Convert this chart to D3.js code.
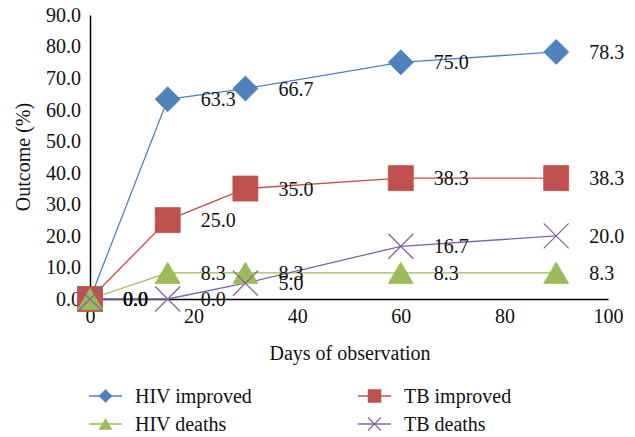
<!DOCTYPE html>
<html><head><meta charset="utf-8">
<script src="https://cdn.jsdelivr.net/npm/d3@7"></script>
<style>
body{margin:0;background:#fff;}
text{font-family:"Liberation Serif","DejaVu Serif",serif;fill:#111;}
</style></head>
<body><svg id="c" width="635" height="437"></svg>
<script>
const days = [0, 15, 30, 60, 90];
const hivImproved = [0, 63.3, 66.7, 75.0, 78.3];
const tbImproved = [0, 25.0, 35.0, 38.3, 38.3];
const hivDeaths = [0, 8.3, 8.3, 8.3, 8.3];
const tbDeaths = [0, 0.0, 5.0, 16.7, 20.0];
const seriesNames = ["HIV improved", "TB improved", "HIV deaths", "TB deaths"];
const xTicks = [0, 20, 40, 60, 80, 100];
const yTicks = [0, 10, 20, 30, 40, 50, 60, 70, 80, 90];

const series = [
  {name: seriesNames[0], values: hivImproved, color: "#4F81BD", shape: "diamond"},
  {name: seriesNames[1], values: tbImproved, color: "#C0504D", shape: "square"},
  {name: seriesNames[2], values: hivDeaths, color: "#9BBB59", shape: "triangle"},
  {name: seriesNames[3], values: tbDeaths, color: "#8064A2", shape: "x"}
];

const FS = "20px";
const svg = d3.select("#c");
const x = d3.scaleLinear().domain([0, 100]).range([90, 608]);
const y = d3.scaleLinear().domain([0, 90]).range([299, 15]);

function markerPath(shape, s) {
  const h = s / 2;
  if (shape === "diamond") return `M0,${-h}L${h},0L0,${h}L${-h},0Z`;
  if (shape === "square") return `M${-h},${-h}H${h}V${h}H${-h}Z`;
  if (shape === "triangle") return `M0,${-h*0.85}L${h},${h*0.85}L${-h},${h*0.85}Z`;
  return `M${-h},${-h}L${h},${h}M${-h},${h}L${h},${-h}`;
}

// axes
const yAxis = d3.axisLeft(y).tickValues(yTicks).tickFormat(d3.format(".1f")).tickSize(0).tickPadding(9);
const gy = svg.append("g").attr("transform", `translate(${x(0)},0)`).call(yAxis);
gy.select(".domain").attr("stroke", "#000").attr("stroke-width", 1.5);
gy.selectAll("text").style("font-size", FS).attr("font-family", null);

const xAxis = d3.axisBottom(x).tickValues(xTicks).tickSize(0).tickPadding(10);
const gx = svg.append("g").attr("transform", `translate(0,${y(0)})`).call(xAxis);
gx.select(".domain").attr("stroke", "#000").attr("stroke-width", 1.5);
gx.selectAll("text").style("font-size", FS).attr("font-family", null);

svg.append("text").attr("x", 350).attr("y", 360).attr("text-anchor", "middle")
  .style("font-size", FS).text("Days of observation");
svg.append("text").attr("transform", "translate(30,157) rotate(-90)").attr("text-anchor", "middle")
  .style("font-size", FS).text("Outcome (%)");

const line = d3.line().x(d => x(d[0])).y(d => y(d[1]));

series.forEach(s => {
  const pts = days.map((d, i) => [d, s.values[i]]);
  svg.append("path").attr("d", line(pts)).attr("fill", "none").attr("stroke", s.color).attr("stroke-width", 1.3);
});
series.forEach(s => {
  const pts = days.map((d, i) => [d, s.values[i]]);
  const g = svg.append("g");
  g.selectAll("path").data(pts).join("path")
    .attr("transform", d => `translate(${x(d[0])},${y(d[1])})`)
    .attr("d", markerPath(s.shape, 25))
    .attr("fill", s.shape === "x" ? "none" : s.color)
    .attr("stroke", s.color).attr("stroke-width", s.shape === "x" ? 1.3 : 0.8);
});
series.forEach(s => {
  const pts = days.map((d, i) => [d, s.values[i]]);
  svg.append("g").selectAll("text").data(pts).join("text")
    .attr("x", d => x(d[0]) + 33).attr("y", d => y(d[1]) + 7)
    .style("font-size", FS).text(d => d3.format(".1f")(d[1]));
});

// legend
const legPos = [[89, 396], [358, 396], [89, 424], [358, 424]];
series.forEach((s, i) => {
  const [lx, ly] = legPos[i];
  const g = svg.append("g").attr("transform", `translate(${lx},${ly})`);
  g.append("line").attr("x1", 0).attr("x2", 33).attr("y1", 0).attr("y2", 0).attr("stroke", s.color).attr("stroke-width", 1.3);
  g.append("path").attr("transform", "translate(16.5,0)").attr("d", markerPath(s.shape, 13))
    .attr("fill", s.shape === "x" ? "none" : s.color).attr("stroke", s.color).attr("stroke-width", s.shape === "x" ? 1.2 : 0.5);
  g.append("text").attr("x", 46).attr("y", 7).style("font-size", FS).text(s.name);
});
</script></body></html>
